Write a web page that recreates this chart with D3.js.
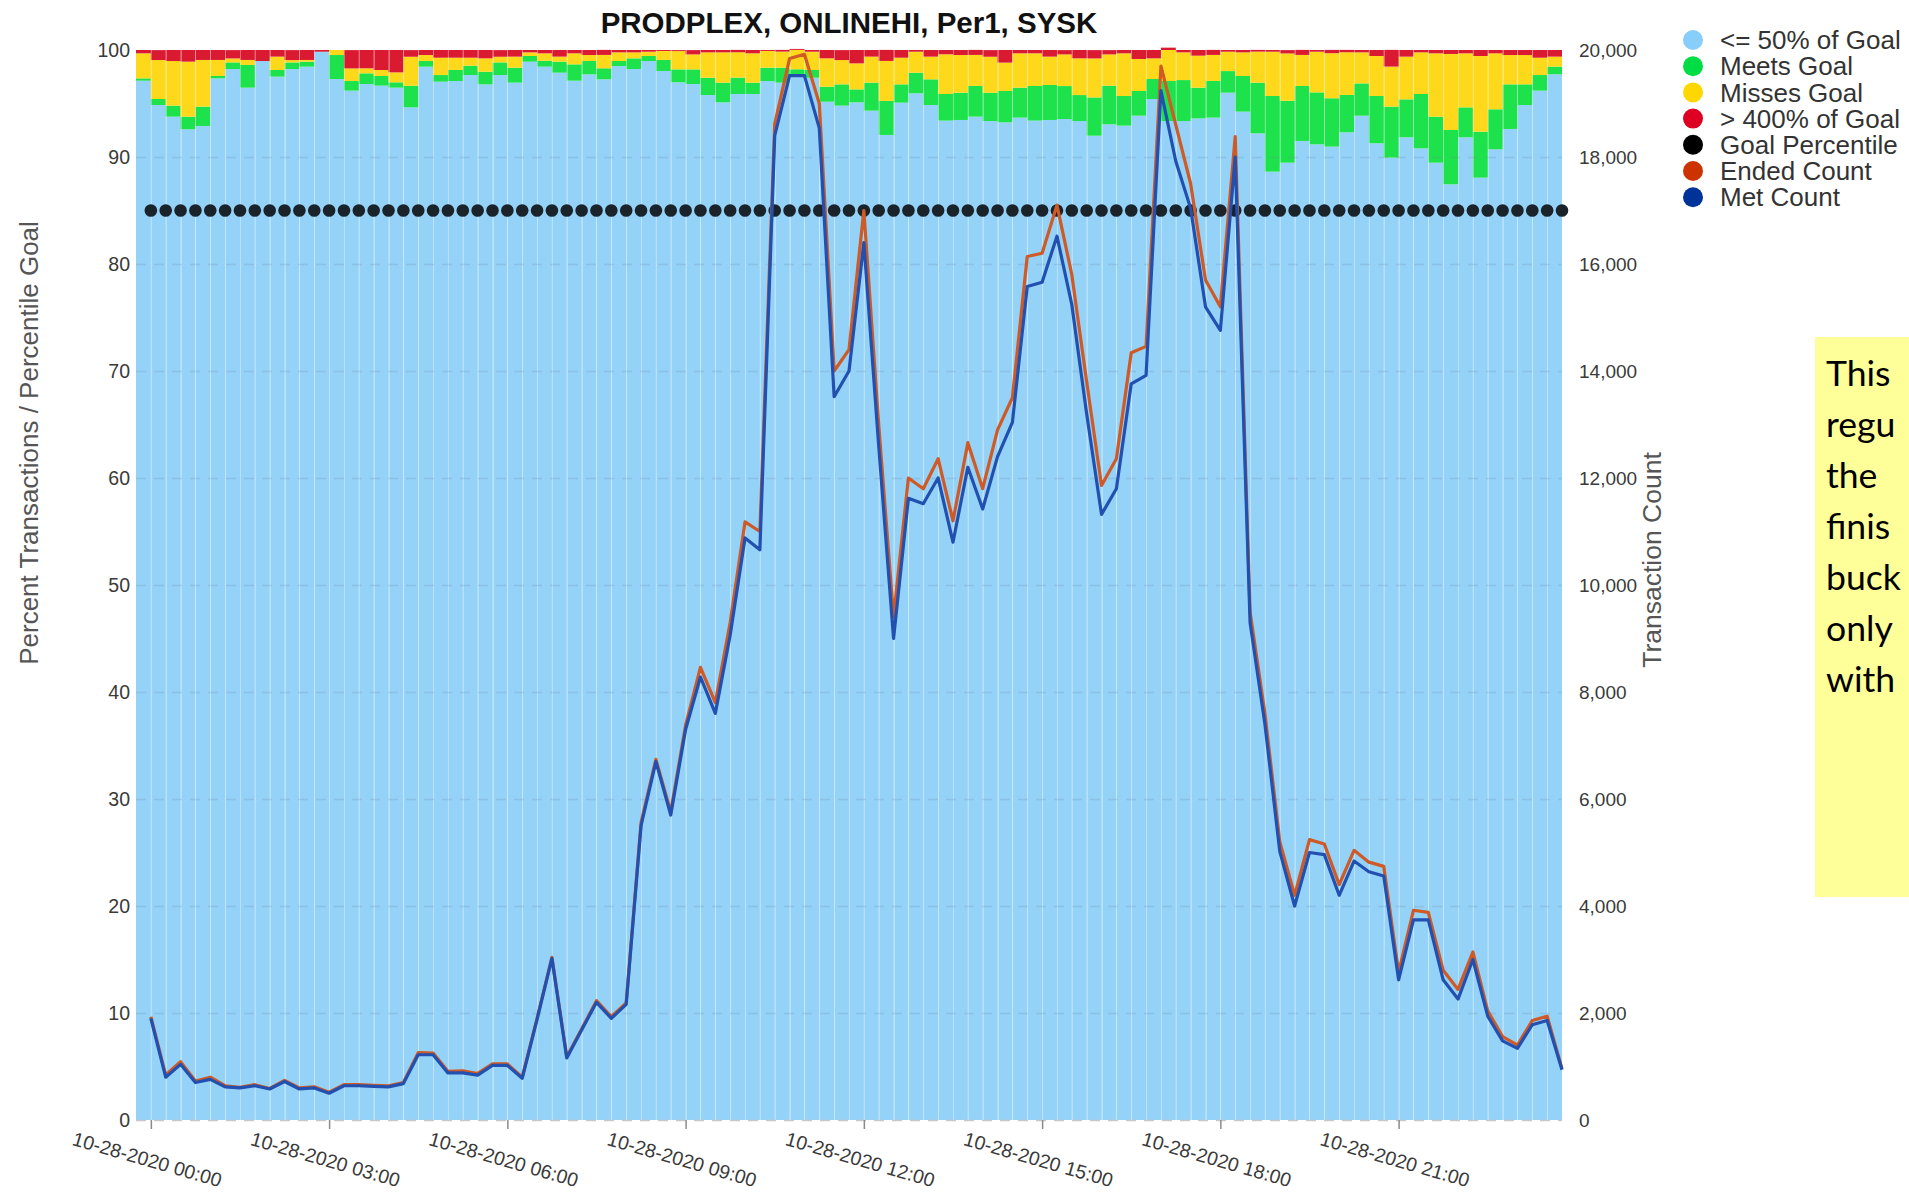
<!DOCTYPE html>
<html>
<head>
<meta charset="utf-8">
<script src="https://cdn.jsdelivr.net/npm/d3@7"></script>
<style>
  html, body { margin: 0; padding: 0; background: #fff; overflow: hidden; }
  svg { display: block; }
</style>
</head>
<body>
<svg id="chart" width="1909" height="1197"></svg>
<script>
// ---------------- DATA ----------------
const chartTitle = "PRODPLEX, ONLINEHI, Per1, SYSK";
const bucketStart = new Date(2020, 9, 28, 0, 0);   // first 15-minute bucket (end time)
const bucketMinutes = 15;
const bucketCount = 96;

const legendLabels = ["<= 50% of Goal", "Meets Goal", "Misses Goal", "> 400% of Goal", "Goal Percentile", "Ended Count", "Met Count"];
const legendColors = ["#87cefa", "#00dd44", "#ffd700", "#dd0022", "#000000", "#cc3300", "#003399"];

const leftTicks = [0, 10, 20, 30, 40, 50, 60, 70, 80, 90, 100];
const rightTicks = [0, 2000, 4000, 6000, 8000, 10000, 12000, 14000, 16000, 18000, 20000];

// stacked percentages per bucket
const pctUnder50 = [97.13,94.86,93.77,92.59,92.90,97.35,98.22,96.48,98.97,97.51,
  98.22,98.44,99.84,97.29,96.20,96.82,96.67,96.48,94.64,98.44,
  97.04,97.10,97.66,96.79,97.66,96.95,98.91,98.44,97.88,97.13,
  97.72,97.26,98.50,98.22,98.97,98.04,96.98,96.82,95.79,95.11,
  95.89,95.89,97.10,96.95,97.51,97.41,95.17,94.80,95.11,94.33,
  92.06,95.08,95.95,94.86,93.40,93.46,93.77,93.36,93.24,93.68,
  93.40,93.46,93.55,93.36,91.99,93.05,92.93,93.86,95.42,93.36,
  93.36,93.61,93.68,96.01,94.24,92.21,88.63,89.47,91.50,91.18,
  90.97,92.31,93.86,91.28,89.94,91.84,90.81,89.47,87.45,91.84,
  88.07,90.72,92.62,94.86,96.20,97.73];
const pctMeets = [0.22,0.56,1.03,1.18,1.81,0.22,0.62,2.12,0,0.62,
  0.62,0.47,0,2.24,0.90,1.00,0.90,0.50,2.02,0.53,
  0.62,1.03,0.87,1.18,1.18,1.40,0.53,0.56,1.03,1.53,
  1.25,1.03,0.47,1.00,0.47,1.03,1.21,1.37,1.62,1.84,
  1.53,1.06,1.25,1.40,0.69,0.72,1.40,1.99,1.21,2.62,
  3.18,1.71,1.93,2.40,2.49,2.55,2.87,2.65,2.93,2.80,
  3.24,3.27,3.08,2.43,3.58,3.61,2.77,2.31,1.87,3.74,
  3.83,2.87,3.43,2.02,3.33,4.74,7.07,5.79,5.14,4.86,
  4.52,3.49,3.02,4.42,4.77,3.55,5.08,4.30,5.08,2.80,
  4.30,3.74,4.17,1.93,1.46,0.72];
const pctMisses = [2.34,3.64,4.17,5.14,4.36,1.50,0.37,0.47,0,1.25,
  0.22,0.16,0,0.47,1.18,0.47,0.56,0.93,2.71,0.56,
  1.62,1.15,0.75,1.25,0.53,1.03,0.34,0.69,0.47,1.03,
  0.56,1.25,0.81,0.56,0.40,0.84,1.71,1.40,2.37,2.83,
  2.37,2.74,1.56,1.50,1.81,1.71,2.65,2.27,2.43,2.43,
  3.74,2.49,1.96,2.12,3.71,3.52,2.90,3.36,2.65,3.21,
  3.05,2.65,2.96,3.43,3.64,2.93,3.99,2.99,1.93,2.90,
  2.59,2.99,2.43,1.81,2.21,2.90,4.14,4.42,2.90,3.80,
  4.21,3.99,2.90,3.74,3.74,3.99,3.89,5.92,7.10,5.05,
  7.07,5.23,2.74,2.74,1.62,0.93];
const pctOver400 = [0.31,0.93,1.03,1.09,0.93,0.93,0.78,0.93,1.03,0.62,
  0.93,0.93,0.16,0,1.71,1.71,1.87,2.09,0.62,0.47,
  0.72,0.72,0.72,0.78,0.62,0.62,0.22,0.31,0.62,0.31,
  0.47,0.47,0.22,0.22,0.16,0.09,0.09,0.40,0.22,0.22,
  0.22,0.31,0.09,0.16,0.09,0.16,0.78,0.93,1.25,0.62,
  1.03,0.72,0.16,0.62,0.40,0.47,0.47,0.62,1.18,0.31,
  0.31,0.62,0.40,0.78,0.78,0.40,0.31,0.84,0.78,0.22,
  0.22,0.53,0.47,0.16,0.22,0.16,0.16,0.31,0.47,0.16,
  0.31,0.22,0.22,0.56,1.56,0.62,0.22,0.31,0.37,0.31,
  0.56,0.31,0.47,0.47,0.72,0.62];

const goalPercentile = [85,85,85,85,85,85,85,85,85,85,85,85,85,85,85,85,85,85,85,85,85,85,85,85,
  85,85,85,85,85,85,85,85,85,85,85,85,85,85,85,85,85,85,85,85,85,85,85,85,
  85,85,85,85,85,85,85,85,85,85,85,85,85,85,85,85,85,85,85,85,85,85,85,85,
  85,85,85,85,85,85,85,85,85,85,85,85,85,85,85,85,85,85,85,85,85,85,85,85];

const endedCount = [1930,840,1090,730,800,640,610,660,590,740,
  600,620,520,660,660,650,640,700,1260,1250,
  910,920,870,1050,1050,800,1900,3040,1180,1700,
  2230,1930,2190,5560,6740,5760,7380,8460,7800,9300,
  11180,11000,18620,19840,19920,19000,14000,14400,17000,13000,
  9400,12000,11800,12360,11200,12660,11800,12900,13500,16140,
  16200,17100,15800,13800,11860,12360,14340,14460,19700,18600,
  17500,15700,15200,18380,9500,7600,5200,4200,5240,5160,
  4400,5040,4820,4740,2760,3920,3880,2800,2440,3140,
  2040,1560,1400,1860,1940,960];
const metCount = [1900,800,1040,700,760,620,600,640,580,720,
  580,600,500,640,640,630,620,680,1220,1220,
  880,880,840,1020,1020,780,1880,3020,1160,1680,
  2200,1900,2160,5500,6700,5700,7300,8280,7600,9060,
  10880,10660,18400,19520,19520,18540,13520,14000,16400,12600,
  9000,11620,11520,12000,10800,12200,11420,12400,13040,15580,
  15660,16520,15240,13200,11320,11800,13760,13920,19240,17920,
  17040,15200,14760,18000,9300,7400,5020,4000,5000,4960,
  4200,4840,4640,4560,2620,3740,3740,2620,2260,3000,
  1940,1480,1340,1780,1860,940];

const noteLines = ["This", "regu", "the", "finis", "buck", "only", "with"];

// ---------------- LAYOUT ----------------
const M = { left: 136, right: 1562, top: 50, bottom: 1120 };
const W = 1909;
const svg = d3.select("#chart");
const font = "'Liberation Sans', Arial, sans-serif";

const times = d3.range(bucketCount).map(i => d3.timeMinute.offset(bucketStart, i * bucketMinutes));
const x = d3.scaleTime()
  .domain([d3.timeMinute.offset(bucketStart, -bucketMinutes), times[times.length - 1]])
  .range([M.left, M.right]);
const yL = d3.scaleLinear().domain([0, 100]).range([M.bottom, M.top]);
const yR = d3.scaleLinear().domain([0, 20000]).range([M.bottom, M.top]);

const rows = times.map((t, i) => ({
  t, under: pctUnder50[i], meets: pctMeets[i], misses: pctMisses[i], over: pctOver400[i]
}));
const keys = ["under", "meets", "misses", "over"];
const barColors = { under: "#94d2f8", meets: "#1de24c", misses: "#fed81b", over: "#da1a30" };
const stacked = d3.stack().keys(keys)(rows);

// bars
const gBars = svg.append("g");
stacked.forEach(layer => {
  gBars.append("g").attr("fill", barColors[layer.key])
    .selectAll("rect").data(layer).join("rect")
    .attr("x", d => x(d3.timeMinute.offset(d.data.t, -bucketMinutes)))
    .attr("width", d => x(d.data.t) - x(d3.timeMinute.offset(d.data.t, -bucketMinutes)))
    .attr("y", d => yL(d[1]))
    .attr("height", d => Math.max(0, yL(d[0]) - yL(d[1])));
});
// bar separators
gBars.append("g").selectAll("line").data(times).join("line")
  .attr("x1", d => Math.round(x(d)) + 0.5).attr("x2", d => Math.round(x(d)) + 0.5)
  .attr("y1", M.top).attr("y2", M.bottom)
  .attr("stroke", "rgba(255,255,255,0.35)").attr("stroke-width", 1);

// gridlines
svg.append("g").selectAll("line").data(leftTicks.filter(v => v > 0 && v < 100)).join("line")
  .attr("x1", M.left).attr("x2", M.right)
  .attr("y1", d => Math.round(yL(d)) + 0.5).attr("y2", d => Math.round(yL(d)) + 0.5)
  .attr("stroke", "rgba(110,130,150,0.22)").attr("stroke-width", 1.5)
  .attr("stroke-dasharray", "10,8");
svg.append("line")
  .attr("x1", M.left).attr("x2", M.right)
  .attr("y1", M.bottom + 0.5).attr("y2", M.bottom + 0.5)
  .attr("stroke", "#c8c8c8").attr("stroke-width", 1.5).attr("stroke-dasharray", "10,8");

// goal dots
svg.append("g").attr("fill", "#1a2329")
  .selectAll("circle").data(goalPercentile).join("circle")
  .attr("cx", (d, i) => x(times[i])).attr("cy", d => yL(d)).attr("r", 6.3);

// lines
const countLine = d3.line().x((d, i) => x(times[i])).y(d => yR(d));
svg.append("path").datum(endedCount).attr("d", countLine)
  .attr("fill", "none").attr("stroke", "#cf5a25").attr("stroke-width", 3.2).attr("stroke-linejoin", "round");
svg.append("path").datum(metCount).attr("d", countLine)
  .attr("fill", "none").attr("stroke", "#2150b0").attr("stroke-width", 3.2).attr("stroke-linejoin", "round");

// left axis
const axL = svg.append("g").attr("transform", `translate(${M.left - 6},0)`)
  .call(d3.axisLeft(yL).tickValues(leftTicks).tickSize(0).tickPadding(0));
axL.select(".domain").remove();
axL.selectAll("text").attr("font-family", font).attr("font-size", 19.5).attr("fill", "#3a3a3a");

// right axis
const axR = svg.append("g").attr("transform", `translate(${M.right + 17},0)`)
  .call(d3.axisRight(yR).tickValues(rightTicks).tickSize(0).tickPadding(0).tickFormat(d3.format(",")));
axR.select(".domain").remove();
axR.selectAll("text").attr("font-family", font).attr("font-size", 19).attr("fill", "#3a3a3a");

// x axis
const axX = svg.append("g").attr("transform", `translate(0,${M.bottom})`)
  .call(d3.axisBottom(x).ticks(d3.timeHour.every(3)).tickSize(9).tickFormat(d3.timeFormat("%m-%d-%Y %H:%M")));
axX.select(".domain").remove();
axX.selectAll(".tick line").attr("stroke", "#8a8a8a").attr("stroke-width", 1.5);
axX.selectAll("text")
  .attr("font-family", font).attr("font-size", 19.5).attr("fill", "#3a3a3a")
  .attr("text-anchor", "middle").attr("dy", null).attr("y", 0)
  .attr("transform", "translate(-6,46) rotate(16)");

// axis titles
svg.append("text").attr("transform", "translate(38,443) rotate(-90)")
  .attr("text-anchor", "middle").attr("font-family", font).attr("font-size", 26).attr("fill", "#555")
  .text("Percent Transactions / Percentile Goal");
svg.append("text").attr("transform", "translate(1661,560) rotate(-90)")
  .attr("text-anchor", "middle").attr("font-family", font).attr("font-size", 26.5).attr("fill", "#555")
  .text("Transaction Count");

// title
svg.append("text").attr("x", (M.left + M.right) / 2).attr("y", 33)
  .attr("text-anchor", "middle").attr("font-family", font).attr("font-weight", "bold")
  .attr("font-size", 29.5).attr("fill", "#111").text(chartTitle);

// legend
const lg = svg.append("g");
legendLabels.forEach((lab, i) => {
  const cy = 40 + i * 26.2;
  lg.append("circle").attr("cx", 1693).attr("cy", cy).attr("r", 10).attr("fill", legendColors[i]);
  lg.append("text").attr("x", 1720).attr("y", cy).attr("dy", "0.35em")
    .attr("font-family", font).attr("font-size", 26).attr("fill", "#333").text(lab);
});

// note box (runs to the right edge of the page, as in the source)
svg.append("rect").attr("x", 1815).attr("y", 337).attr("width", W - 1815).attr("height", 560).attr("fill", "#ffff99");
const noteX = 1826;
const baseSize = 42;
const nt = svg.append("text").attr("font-family", "Lato, 'Open Sans', sans-serif").attr("font-size", baseSize).attr("fill", "#000");
const spans = noteLines.map((s, i) => nt.append("tspan").attr("x", noteX).attr("y", 386 + i * 51).text(s));
const widest = d3.max(spans, ts => ts.node().getComputedTextLength());
const room = W - noteX - 8;
if (widest > room) nt.attr("font-size", Math.floor(baseSize * room / widest * 10) / 10);
</script>
</body>
</html>
